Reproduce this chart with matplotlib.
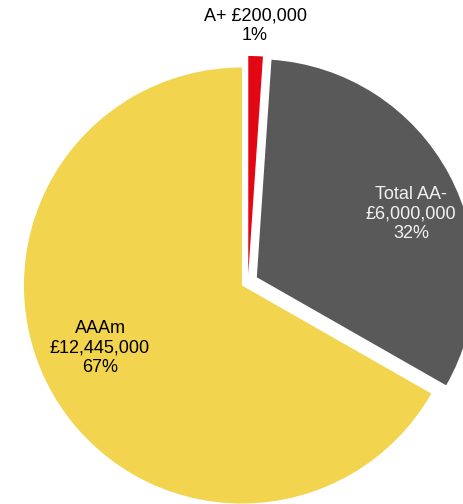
import matplotlib
matplotlib.use('Agg')
import matplotlib.pyplot as plt

plt.rcParams['font.family'] = ['Liberation Sans', 'DejaVu Sans']

# Datos del gráfico
categorias = ['A+', 'Total AA-', 'AAAm']
valores = [200000, 6000000, 12445000]
colores = ['#E30613', '#595959', '#F2D44E']
color_texto = ['black', '#F2F2F2', 'black']

# Layout (en píxeles de la figura)
W, H = 463, 504
CENTRO = (248, 222)
RADIO = 218
explode = [8, 10, 7]
pos_labels = [(255, 478), (411, 290), (100, 156)]

fig = plt.figure(figsize=(W / 100, H / 100), dpi=100)
ax = fig.add_axes([0, 0, 1, 1])

ax.pie(valores, colors=colores, explode=explode, startangle=90,
       counterclock=False, radius=RADIO, center=CENTRO, frame=True,
       wedgeprops=dict(linewidth=0))
ax.set_xlim(0, W)
ax.set_ylim(0, H)
ax.set_aspect('equal')
ax.axis('off')

total = sum(valores)
for cat, v, (x, y), c in zip(categorias, valores, pos_labels, color_texto):
    pct = v / total * 100
    if cat == 'A+':
        txt = f'{cat} £{v:,.0f}\n{pct:.0f}%'
    else:
        txt = f'{cat}\n£{v:,.0f}\n{pct:.0f}%'
    ax.text(x, y, txt, ha='center', va='center', fontsize=13, color=c,
            linespacing=1.22)

fig.savefig('out.png', dpi=100)
